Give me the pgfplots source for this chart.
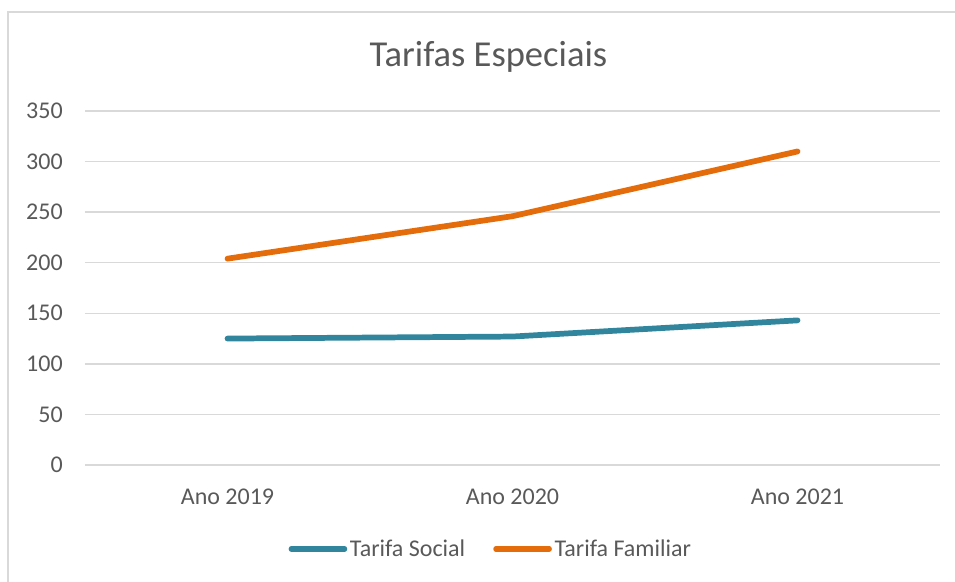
\documentclass[border=0pt]{standalone}
\usepackage{pgfplots}
\pgfplotsset{compat=1.18}
\usepackage{fontspec}
\setmainfont{Carlito}

\definecolor{txtgray}{HTML}{595959}
\definecolor{gridgray}{HTML}{D9D9D9}
\definecolor{social}{HTML}{31859C}
\definecolor{familiar}{HTML}{E46C0A}

\begin{document}
\begin{tikzpicture}
% image is 955x581 px, 1px = 0.75pt; axis box lower-left at (0,0)
\begin{axis}[
    name=ax,
    scale only axis,
    width=641.25pt, height=265.5pt,
    xmin=-0.5, xmax=2.5,
    ymin=0, ymax=350,
    xtick={0,1,2},
    xticklabels={Ano 2019, Ano 2020, Ano 2021},
    ytick={0,50,...,350},
    axis line style={draw=none},
    major tick length=0pt,
    ymajorgrids=true,
    grid style={gridgray, line width=1.1pt},
    tick label style={text=txtgray, font=\fontsize{18}{20}\selectfont},
    /pgf/number format/assume math mode=true,
    yticklabel style={anchor=east, inner sep=0pt, xshift=-16.5pt},
    xticklabel style={anchor=north, inner sep=0pt, yshift=-18pt},
    legend style={at={(0.475,-0.237)}, anchor=center, draw=none, fill=none,
      text=txtgray, font=\fontsize{18}{20}\selectfont,
      /tikz/every even column/.append style={column sep=19pt},
      inner sep=0pt, row sep=0pt},
    legend columns=2,
    legend cell align=left,
    legend image code/.code={
      \draw[#1, line width=4pt, line cap=round] (0pt,0pt) -- (40pt,0pt);
    },
]
\addplot[social, line width=4.3pt, line cap=round, line join=round]
  coordinates {(0,125) (1,127) (2,143)};
\addlegendentry{Tarifa Social}
\addplot[familiar, line width=4.3pt, line cap=round, line join=round]
  coordinates {(0,204) (1,246) (2,310)};
\addlegendentry{Tarifa Familiar}
\end{axis}

\node[anchor=base, text=txtgray, font=\fontsize{27.4}{30}\selectfont, inner sep=0pt]
  at (302.6pt,298.5pt) {Tarifas Especiais};
% chart frame (right and bottom run off the picture)
\draw[gridgray, line width=1.1pt] (-57.75pt,-120pt) -- (-57.75pt,339.75pt) -- (700pt,339.75pt);

\pgfresetboundingbox
\useasboundingbox (-63.75pt,-87pt) rectangle (652.5pt,348.75pt);
\end{tikzpicture}
\end{document}
